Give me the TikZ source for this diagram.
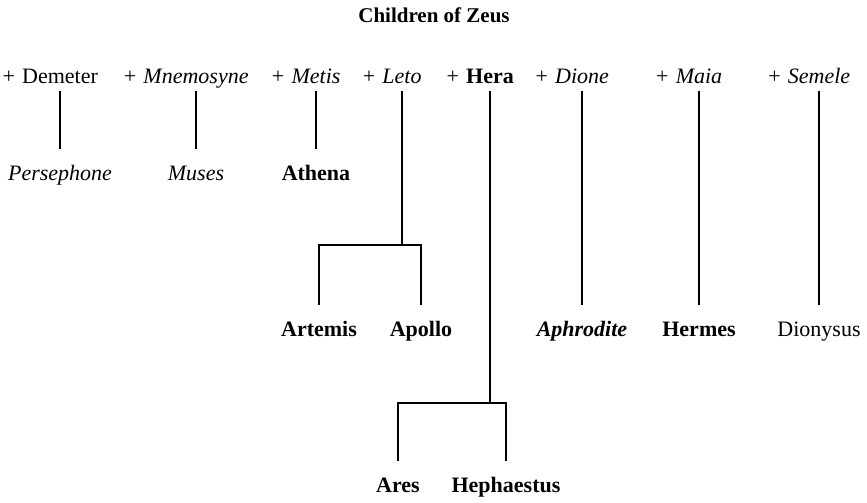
\documentclass[tikz,border=0pt]{standalone}
\usepackage{fontspec}
\setmainfont{Liberation Serif}
\begin{document}
\begin{tikzpicture}[x=1pt,y=-1pt,line width=2.2pt,
  every node/.style={inner xsep=0pt,inner ysep=2pt,text height=14pt,text depth=5pt,font=\fontsize{22}{26}\selectfont},
  mum/.style={anchor=base,label={[label distance=5pt]left:+}},
  kid/.style={anchor=base,text height=28pt}]
  \useasboundingbox (0,0) rectangle (867,503);
  \node[anchor=base,font=\fontsize{21}{25}\selectfont\bfseries] (title) at (434,23) {Children of Zeus};
  \node[mum] (demeter) at (60,83) {Demeter};
  \node[mum] (mnemosyne) at (196,83) {\itshape Mnemosyne};
  \node[mum] (metis) at (316,83) {\itshape Metis};
  \node[mum] (leto) at (402,83) {\itshape Leto};
  \node[mum] (hera) at (490,83) {\bfseries Hera};
  \node[mum] (dione) at (582,83) {\itshape Dione};
  \node[mum] (maia) at (699,83) {\itshape Maia};
  \node[mum] (semele) at (819,83) {\itshape Semele};
  \node[kid] (persephone) at (60,180) {\itshape Persephone};
  \node[kid] (muses) at (196,180) {\itshape Muses};
  \node[kid] (athena) at (316,180) {\bfseries Athena};
  \node[kid] (artemis) at (319,336) {\bfseries Artemis};
  \node[kid] (apollo) at (421,336) {\bfseries Apollo};
  \node[kid] (aphrodite) at (582,336) {\bfseries\itshape Aphrodite};
  \node[kid] (hermes) at (699,336) {\bfseries Hermes};
  \node[kid] (dionysus) at (819,336) {Dionysus};
  \node[kid] (ares) at (398,492) {\bfseries Ares};
  \node[kid] (hephaestus) at (506,492) {\bfseries Hephaestus};
  \coordinate (letojoin) at (402,245);
  \coordinate (herajoin) at (490,403);
  \draw (demeter) -- (persephone);
  \draw (mnemosyne) -- (muses);
  \draw (metis) -- (athena);
  \draw (leto) -- (letojoin);
  \draw (artemis) |- (letojoin) -| (apollo);
  \draw (hera) -- (herajoin);
  \draw (ares) |- (herajoin) -| (hephaestus);
  \draw (dione) -- (aphrodite);
  \draw (maia) -- (hermes);
  \draw (semele) -- (dionysus);
\end{tikzpicture}
\end{document}
